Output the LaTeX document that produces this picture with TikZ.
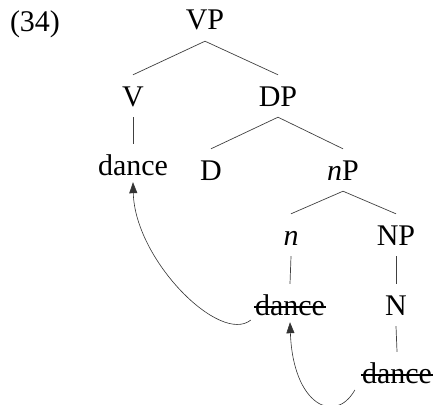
\documentclass[tikz,border=0pt]{standalone}
\usepackage{fontspec}
\setmainfont{Liberation Serif}
\usetikzlibrary{arrows.meta}
\begin{document}
\begin{tikzpicture}[x=1pt,y=-1pt,
  lbl/.style={inner xsep=2pt,inner ysep=11pt,text height=20pt,text depth=0pt,anchor=base,
    font=\fontsize{30}{36}\selectfont},
  branch/.style={line width=0.7pt,black!75},
  strike/.style={line width=1.3pt,black},
  move/.style={line width=0.6pt,black!80,-{Triangle[length=11pt,width=8pt]}}]
\useasboundingbox (0,0) rectangle (435,404);
% example number
\node[lbl] (num) at (35,31) {(34)};
% tree nodes
\node[lbl] (VP) at (205,30) {VP};
\node[lbl] (V)  at (133,106) {V};
\node[lbl] (DP) at (278,106) {DP};
\node[lbl] (dv) at (133,175) {dance};
\node[lbl] (D)  at (211,180) {D};
\node[lbl] (nP) at (343,180) {\textit{n}P};
\node[lbl] (n)  at (291,245) {\textit{n}};
\node[lbl] (NP) at (396,245) {NP};
\node[lbl] (dn) at (290,315) {dance};
\node[lbl] (N)  at (396,315) {N};
\node[lbl] (dN) at (397,383) {dance};
% branches
\draw[branch] (VP.south) -- (V.north);
\draw[branch] (VP.south) -- (DP.north);
\draw[branch] (V.south) -- (dv.north);
\draw[branch] (DP.south) -- (D.north);
\draw[branch] (DP.south) -- (nP.north);
\draw[branch] (nP.south) -- (n.north);
\draw[branch] (nP.south) -- (NP.north);
\draw[branch] (n.south) -- (dn.north);
\draw[branch] (NP.south) -- (N.north);
\draw[branch] (N.south) -- (dN.north);
% struck-out copies
\draw[strike] ([shift={(1,-8)}]dn.base west) -- ([shift={(-1,-8)}]dn.base east);
\draw[strike] ([shift={(1,-8)}]dN.base west) -- ([shift={(-1,-8)}]dN.base east);
% movement arrows
\draw[move] ([shift={(-2,5)}]dn.base west) .. controls (220,345) and (135,260) .. ([shift={(0,-4)}]dv.south);
\draw[move] ([shift={(-5,7)}]dN.base west) .. controls (335,425) and (293,405) .. ([shift={(0,-4)}]dn.south);
\end{tikzpicture}
\end{document}
